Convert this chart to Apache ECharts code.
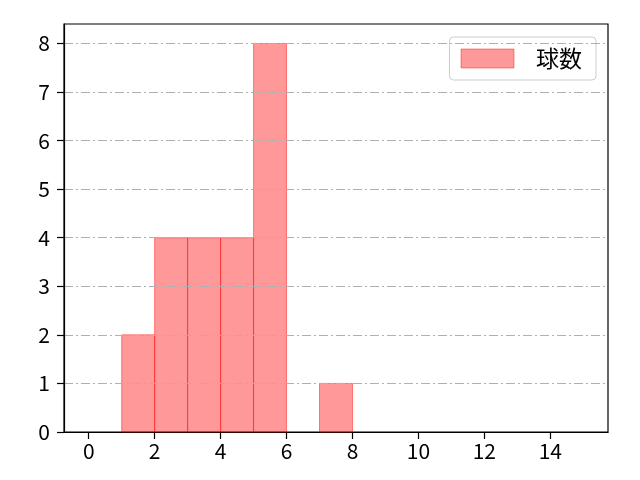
<!DOCTYPE html>
<html>
<head>
<meta charset="utf-8">
<script src="https://cdn.jsdelivr.net/npm/echarts@6/dist/echarts.min.js"></script>
<style>html,body{margin:0;padding:0;background:#fff}#c{width:640px;height:480px}</style>
</head>
<body>
<div id="c"></div>
<script>
const seriesName = '球数';
const binStarts = [0,1,2,3,4,5,6,7,8,9,10,11,12,13,14];
const binWidth = 1;
const counts = [0,2,4,4,4,8,0,1,0,0,0,0,0,0,0];
const xTicks = [0,2,4,6,8,10,12,14];
const yTicks = [0,1,2,3,4,5,6,7,8];

const FONT = '"Noto Sans CJK JP", "DejaVu Sans", sans-serif';
const chart = echarts.init(document.getElementById('c'), null, {renderer:'canvas'});
const data = binStarts.map((s,i)=>[s, s+binWidth, counts[i]]);
chart.setOption({
  animation:false,
  grid:{left:64,right:32,top:24,bottom:48,show:true,borderColor:'#000',borderWidth:1.2,backgroundColor:'transparent'},
  legend:{
    right:44, top:37, orient:'vertical',
    padding:[10,14,10,11],
    backgroundColor:'rgba(255,255,255,0.8)', borderColor:'#cccccc', borderWidth:1, borderRadius:4,
    itemWidth:53, itemHeight:19,
    textStyle:{fontFamily:FONT,fontSize:23,color:'#000',padding:[0,0,0,17]},
    data:[{name:seriesName, icon:'rect', itemStyle:{color:'rgba(255,0,0,0.4)',borderColor:'rgba(255,0,0,0.4)',borderWidth:1}}]
  },
  xAxis:{
    type:'value', min:-0.75, max:15.75,
    axisLine:{show:true,onZero:false,lineStyle:{color:'#000',width:1.2}},
    axisTick:{show:true,inside:false,length:7,customValues:xTicks,lineStyle:{color:'#000',width:1.2}},
    axisLabel:{customValues:xTicks,fontFamily:FONT,fontSize:21,color:'#000',margin:9},
    splitLine:{show:false}
  },
  yAxis:{
    type:'value', min:0, max:8.4, interval:1, z:5,
    axisLine:{show:true,onZero:false,lineStyle:{color:'#000',width:1.2}},
    axisTick:{show:true,inside:false,length:7,customValues:yTicks,lineStyle:{color:'#000',width:1.2}},
    axisLabel:{customValues:yTicks,fontFamily:FONT,fontSize:21,color:'#000',margin:14},
    splitLine:{show:true,showMaxLine:true,showMinLine:false,lineStyle:{color:'#b0b0b0',width:1,type:[9,3,2,3]}}
  },
  series:[{
    name:seriesName,
    type:'custom',
    z:2,
    data:data,
    encode:{x:[0,1],y:2},
    renderItem:function(params, api){
      const x0=api.value(0), x1=api.value(1), v=api.value(2);
      if(!v) return null;
      const p0=api.coord([x0,v]);
      const p1=api.coord([x1,0]);
      return {
        type:'rect',
        shape:{x:p0[0],y:p0[1],width:p1[0]-p0[0],height:p1[1]-p0[1]},
        style:{fill:'rgba(255,0,0,0.4)',stroke:'rgba(255,0,0,0.45)',lineWidth:1}
      };
    }
  }]
});
</script>
</body>
</html>
